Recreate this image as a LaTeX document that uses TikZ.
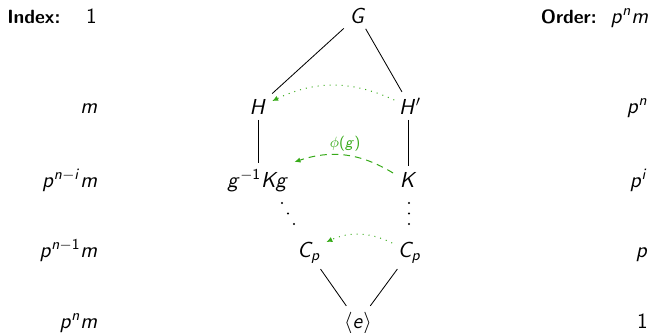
\RequirePackage{fix-cm}
\documentclass[tikz,border=0pt]{standalone}
\usetikzlibrary{arrows.meta,calc}
\DeclareSymbolFont{sfletters}{OT1}{cmss}{m}{sl}
\SetSymbolFont{operators}{normal}{OT1}{cmss}{m}{n}
\DeclareMathSymbol{G}{\mathalpha}{sfletters}{`G}
\DeclareMathSymbol{H}{\mathalpha}{sfletters}{`H}
\DeclareMathSymbol{K}{\mathalpha}{sfletters}{`K}
\DeclareMathSymbol{C}{\mathalpha}{sfletters}{`C}
\DeclareMathSymbol{p}{\mathalpha}{sfletters}{`p}
\DeclareMathSymbol{n}{\mathalpha}{sfletters}{`n}
\DeclareMathSymbol{m}{\mathalpha}{sfletters}{`m}
\DeclareMathSymbol{i}{\mathalpha}{sfletters}{`i}
\DeclareMathSymbol{e}{\mathalpha}{sfletters}{`e}
\DeclareMathSymbol{g}{\mathalpha}{sfletters}{`g}
\definecolor{arrgreen}{RGB}{55,170,25}
\newcommand\mathsz{\fontsize{13}{15}\selectfont}
\begin{document}
\begin{tikzpicture}[x=0.6pt,y=-0.6pt,
  lbl/.style={anchor=base east, inner sep=0pt, font=\mathsz},
  head/.style={inner sep=0pt,
    font=\sffamily\bfseries\fontsize{11.5}{13}\selectfont},
  grp/.style={anchor=base, inner sep=3.3pt, font=\mathsz},
  link/.style={line width=0.5pt},
  conj/.style={draw=arrgreen, line width=0.6pt, -{Latex[length=3.6pt,width=3.2pt]}},
  dotline/.style={conj, dash pattern=on 0.6pt off 3pt},
  dashline/.style={conj, dash pattern=on 4pt off 3pt},
  dotmark/.style={circle, fill, inner sep=0pt, minimum size=1.4pt}]
\useasboundingbox (0,0) rectangle (654,332);
% left column
\node[head, anchor=base west] (idx) at (7,23) {Index:};
\node[lbl] (i1) at (97,23) {$1$};
\node[lbl] (i2) at (98,113) {$m$};
\node[lbl] (i3) at (98,187) {$p^{n-i}m$};
\node[lbl] (i4) at (98,257) {$p^{n-1}m$};
\node[lbl] (i5) at (98,328) {$p^n m$};
% right column
\node[head, anchor=base east] (ord) at (597,23) {Order:};
\node[lbl] (o1) at (649,23) {$p^n m$};
\node[lbl] (o2) at (648,113) {$p^n$};
\node[lbl] (o3) at (648,187) {$p^i$};
\node[lbl] (o4) at (648,257) {$p$};
\node[lbl] (o5) at (648,328) {$1$};
% lattice
\node[grp] (G) at (358,23) {$G$};
\node[grp] (H) at (258,114) {$H$};
\node[grp] (Hp) at (410,114) {$H'$};
\node[grp] (gKg) at (258,187) {$g^{-1}Kg$};
\node[grp] (K) at (408.5,187) {$K$};
\node[grp] (Cpl) at (309,257) {$C_p$};
\node[grp] (Cpr) at (409.5,257) {$C_p$};
\node[grp] (E) at (358,328) {$\langle e\rangle$};
\draw[link] (G) -- (H);
\draw[link] (G) -- (Hp);
\draw[link] (H) -- (gKg);
\draw[link] (K |- Hp.south) -- (K);
\draw[link] (Cpl) -- (E);
\draw[link] (Cpr) -- (E);
% dots
\node[dotmark] (dl1) at (282,203) {};
\node[dotmark] (dl2) at (288,213.5) {};
\node[dotmark] (dl3) at (294,224) {};
\node[dotmark] (dr1) at (409,203) {};
\node[dotmark] (dr2) at (409,213.5) {};
\node[dotmark] (dr3) at (409,224) {};
% conjugation arrows
\draw[dotline] ($(Hp.base west)+(1,-14)$) to[bend right=25] ($(H.base east)+(0,-13)$);
\draw[dashline] ($(K.base west)+(-1,-14)$) to[bend right=25]
  node[midway, above, inner sep=2pt, text=arrgreen, font=\fontsize{9}{11}\selectfont] (phi) {$\phi(g)$}
  ($(gKg.base east)+(0,-25)$);
\draw[dotline] ($(Cpr.base west)+(0,-14)$) to[bend right=25] ($(Cpl.base east)+(0,-15)$);
\end{tikzpicture}
\end{document}
